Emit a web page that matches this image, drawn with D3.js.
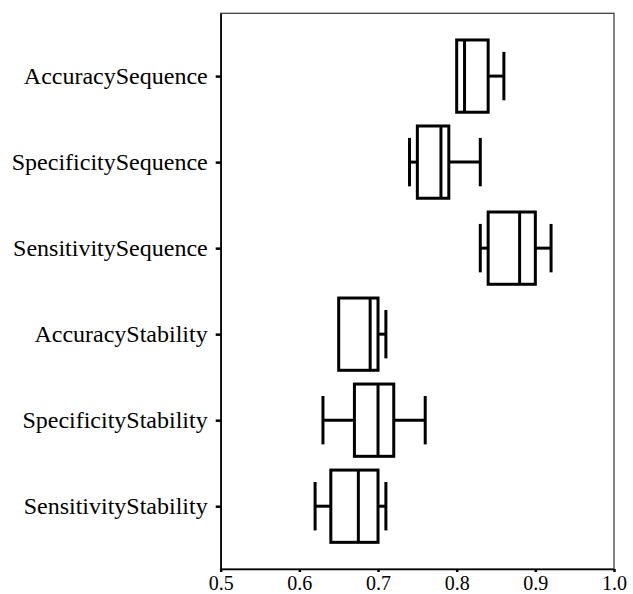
<!DOCTYPE html>
<html>
<head>
<meta charset="utf-8">
<script src="https://cdn.jsdelivr.net/npm/d3@7"></script>
<style>
  body { margin: 0; background: #fff; }
</style>
</head>
<body>
<script>
// box plot stats
const categories = ["AccuracySequence", "SpecificitySequence", "SensitivitySequence",
                    "AccuracyStability", "SpecificityStability", "SensitivityStability"];
const mins    = [0.80, 0.74, 0.83, 0.65, 0.63, 0.62];
const q1s     = [0.80, 0.75, 0.84, 0.65, 0.67, 0.64];
const medians = [0.81, 0.78, 0.88, 0.69, 0.70, 0.675];
const q3s     = [0.84, 0.79, 0.90, 0.70, 0.72, 0.70];
const maxs    = [0.86, 0.83, 0.92, 0.71, 0.76, 0.71];
const xTicks  = [0.5, 0.6, 0.7, 0.8, 0.9, 1.0];

let boxes = categories.map(function (c, i) {
    return {name: c, min: mins[i], q1: q1s[i], med: medians[i], q3: q3s[i], max: maxs[i]};
});

let width = 633, height = 594;
let plotL = 220.7, plotR = 614, plotT = 13.3, plotB = 569;

let svg = d3.select("body")
    .append("svg")
    .attr("width", width)
    .attr("height", height);

let x = d3.scaleLinear()
    .domain([0.5, 1.0])
    .range([plotL, plotR]);

let y = d3.scalePoint()
    .domain(categories)
    .range([plotT, plotB])
    .padding(0.73);

let boxH = y.step() * 0.84;
let capH = boxH * 0.67;

// frame (top + right)
svg.append("rect")
    .attr("x", plotL)
    .attr("y", plotT)
    .attr("width", plotR - plotL)
    .attr("height", plotB - plotT)
    .attr("fill", "none")
    .attr("stroke", "#333")
    .attr("stroke-width", 1.2);

let g = svg.selectAll(".box")
    .data(boxes)
    .enter().append("g")
    .attr("class", "box")
    .attr("transform", d => "translate(0," + y(d.name) + ")")
    .attr("stroke", "#000")
    .attr("stroke-width", 3)
    .attr("fill", "none");

// whiskers
g.append("line")
    .attr("x1", d => x(d.min))
    .attr("x2", d => x(d.q1))
    .attr("y1", 0).attr("y2", 0);
g.append("line")
    .attr("x1", d => x(d.q3))
    .attr("x2", d => x(d.max))
    .attr("y1", 0).attr("y2", 0);
g.filter(d => d.min < d.q1).append("line")
    .attr("x1", d => x(d.min))
    .attr("x2", d => x(d.min))
    .attr("y1", -capH / 2).attr("y2", capH / 2);
g.filter(d => d.max > d.q3).append("line")
    .attr("x1", d => x(d.max))
    .attr("x2", d => x(d.max))
    .attr("y1", -capH / 2).attr("y2", capH / 2);

g.append("rect")
    .attr("x", d => x(d.q1))
    .attr("width", d => x(d.q3) - x(d.q1))
    .attr("y", -boxH / 2)
    .attr("height", boxH)
    .attr("fill", "#fff");

g.append("line")
    .attr("x1", d => x(d.med))
    .attr("x2", d => x(d.med))
    .attr("y1", -boxH / 2).attr("y2", boxH / 2);

// axes
let yAxis = svg.append("g")
    .attr("transform", "translate(" + plotL + ",0)")
    .call(d3.axisLeft(y).tickSize(5).tickSizeOuter(0).tickPadding(8));

let xAxis = svg.append("g")
    .attr("transform", "translate(0," + plotB + ")")
    .call(d3.axisBottom(x).tickValues(xTicks).tickFormat(d3.format(".1f"))
        .tickSize(3).tickSizeOuter(0).tickPadding(4));

[yAxis, xAxis].forEach(function (a) {
    a.select(".domain").attr("stroke", "#000").attr("stroke-width", 1.5);
    a.selectAll(".tick line").attr("stroke", "#000").attr("stroke-width", 2.5);
    a.selectAll("text")
        .attr("fill", "#000")
        .style("font-family", "'Liberation Serif', 'Times New Roman', serif");
});
yAxis.selectAll("text").style("font-size", "24px");
xAxis.selectAll("text").style("font-size", "20px");
</script>
</body>
</html>
